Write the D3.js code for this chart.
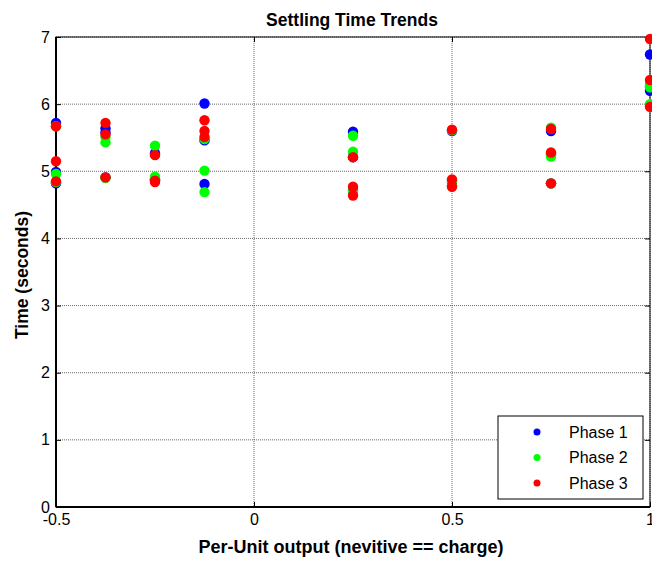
<!DOCTYPE html>
<html>
<head>
<meta charset="utf-8">
<script src="https://cdn.jsdelivr.net/npm/d3@7"></script>
<style>
  body { margin: 0; background: #fff; }
  svg { font-family: 'Liberation Sans', Arial, sans-serif; }
</style>
</head>
<body>
<svg id="chart" width="652" height="563"></svg>
<script>
// data
const xCats = [-0.5, -0.375, -0.25, -0.125, 0.25, 0.5, 0.75, 1]
const phase1 = [
  [5.72, 4.99, 4.82], [5.64, 5.58, 4.91], [5.27, 4.88, 4.86], [6.01, 5.46, 4.81],
  [5.59, 5.21, 4.72], [5.60, 4.84, 4.78], [5.60, 5.25, 4.82], [6.74, 6.27, 6.20]
]
const phase2 = [
  [5.67, 4.96, 4.84], [5.51, 5.43, 4.90], [5.38, 4.92, 4.88], [5.01, 4.69, 5.48],
  [5.53, 5.29, 4.70], [5.61, 4.86, 4.78], [5.65, 5.22, 4.82], [6.30, 6.25, 6.00]
]
const phase3 = [
  [5.67, 5.15, 4.85], [5.72, 5.55, 4.91], [5.24, 4.86, 4.84], [5.76, 5.60, 5.51],
  [5.21, 4.77, 4.64], [5.62, 4.88, 4.77], [5.63, 5.28, 4.82], [6.97, 6.36, 5.96]
]
const seriesNames = ['Phase 1', 'Phase 2', 'Phase 3']
const seriesColors = ['#0000ff', '#00ff00', '#ff0000']
const xTicks = [-0.5, 0, 0.5, 1]
const xTickLabels = ['-0.5', '0', '0.5', '1']
const yTicks = [0, 1, 2, 3, 4, 5, 6, 7]

const svg = d3.select('#chart')
const margin = { left: 56, right: 2, top: 37, bottom: 56 }
const width = +svg.attr('width')
const height = +svg.attr('height')
const innerWidth = width - margin.left - margin.right
const innerHeight = height - margin.top - margin.bottom

const x = d3.scaleLinear().domain([-0.5, 1]).range([0, innerWidth])
const y = d3.scaleLinear().domain([0, 7]).range([innerHeight, 0])

const g = svg.append('g').attr('transform', `translate(${margin.left},${margin.top})`)

// grid
g.append('g').selectAll('line').data(xTicks).enter().append('line')
  .attr('x1', d => x(d)).attr('x2', d => x(d))
  .attr('y1', 0).attr('y2', innerHeight)
  .attr('stroke', '#444').attr('stroke-width', 0.8).attr('stroke-dasharray', '1,1')
g.append('g').selectAll('line').data(yTicks).enter().append('line')
  .attr('x1', 0).attr('x2', innerWidth)
  .attr('y1', d => y(d)).attr('y2', d => y(d))
  .attr('stroke', '#444').attr('stroke-width', 0.8).attr('stroke-dasharray', '1,1')

// axes (ticks inward, like matlab)
const xAxis = d3.axisBottom(x).tickValues(xTicks).tickSize(-5).tickPadding(8)
  .tickFormat((d, i) => xTickLabels[i])
const yAxis = d3.axisLeft(y).tickValues(yTicks).tickSize(-5).tickPadding(6)
  .tickFormat(d3.format('d'))
const xAxisG = g.append('g').attr('transform', `translate(0,${innerHeight})`).call(xAxis)
const yAxisG = g.append('g').call(yAxis)
const topG = g.append('g').call(d3.axisTop(x).tickValues(xTicks).tickSize(-5))
const rightG = g.append('g').attr('transform', `translate(${innerWidth},0)`)
  .call(d3.axisRight(y).tickValues(yTicks).tickSize(-5))
topG.selectAll('text').remove()
rightG.selectAll('text').remove()
svg.selectAll('.domain').remove()
svg.selectAll('.tick line').attr('stroke', '#000')
svg.selectAll('.tick text').attr('font-size', 16).attr('fill', '#000')
  .attr('font-family', "'Liberation Sans', Arial, sans-serif")
xAxisG.selectAll('.tick text').attr('dy', '0.6em')

// box
g.append('rect').attr('width', innerWidth).attr('height', innerHeight)
  .attr('fill', 'none').attr('stroke', '#000').attr('stroke-width', 1)
g.append('line').attr('x1', 0).attr('x2', 0).attr('y1', 0).attr('y2', innerHeight)
  .attr('stroke', '#000').attr('stroke-width', 2)
g.append('line').attr('x1', 0).attr('x2', innerWidth).attr('y1', innerHeight).attr('y2', innerHeight)
  .attr('stroke', '#000').attr('stroke-width', 2)

// points
const allSeries = [phase1, phase2, phase3]
allSeries.forEach((series, si) => {
  let pts = []
  series.forEach((vals, i) => vals.forEach(v => pts.push({ x: xCats[i], y: v })))
  g.append('g').selectAll('circle').data(pts).enter().append('circle')
    .attr('cx', d => x(d.x))
    .attr('cy', d => y(d.y))
    .attr('r', 5.2)
    .attr('fill', seriesColors[si])
})

// titles
svg.append('text').attr('x', 352).attr('y', 26)
  .attr('text-anchor', 'middle').attr('font-weight', 'bold').attr('font-size', 17.5)
  .text('Settling Time Trends')
svg.append('text').attr('x', 351).attr('y', 553)
  .attr('text-anchor', 'middle').attr('font-weight', 'bold').attr('font-size', 18)
  .text('Per-Unit output (nevitive == charge)')
svg.append('text').attr('transform', 'translate(28,275) rotate(-90)')
  .attr('text-anchor', 'middle').attr('font-weight', 'bold').attr('font-size', 17.5)
  .text('Time (seconds)')

// legend
const legend = svg.append('g').attr('transform', 'translate(498,416)')
legend.append('rect').attr('width', 145).attr('height', 83)
  .attr('fill', '#fff').attr('stroke', '#000').attr('stroke-width', 1)
seriesNames.forEach((name, i) => {
  legend.append('circle').attr('cx', 39).attr('cy', 16 + i * 25.5).attr('r', 3.5)
    .attr('fill', seriesColors[i])
  legend.append('text').attr('x', 71).attr('y', 16 + i * 25.5).attr('dy', '0.35em')
    .attr('font-size', 16).text(name)
})
</script>
</body>
</html>
